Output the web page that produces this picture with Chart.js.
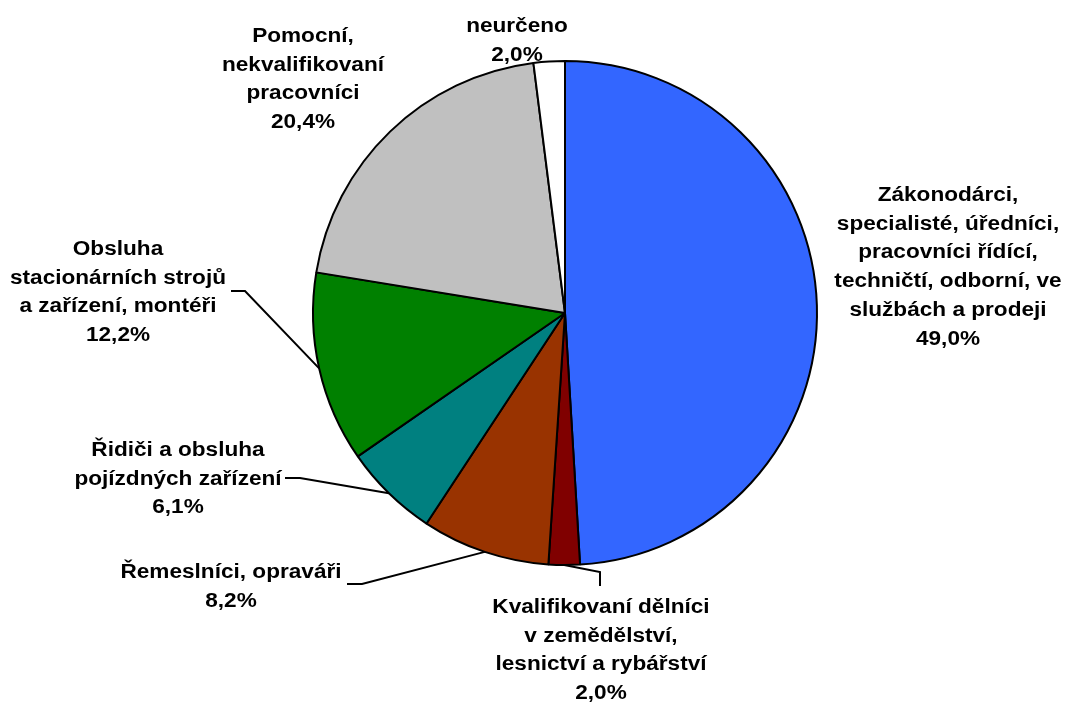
<!DOCTYPE html>
<html>
<head>
<meta charset="utf-8">
<script src="https://cdn.jsdelivr.net/npm/chart.js@4"></script>
<style>
  html, body { margin: 0; padding: 0; background: #fff; }
  #wrap { width: 1067px; height: 702px; }
</style>
</head>
<body>
<div id="wrap"><canvas id="graf"></canvas></div>
<script>
// data
const kategorie = [
    ["Zákonodárci,", "specialisté, úředníci,", "pracovníci řídící,", "techničtí, odborní, ve", "službách a prodeji"],
    ["Kvalifikovaní dělníci", "v zemědělství,", "lesnictví a rybářství"],
    ["Řemeslníci, opraváři"],
    ["Řidiči a obsluha", "pojízdných zařízení"],
    ["Obsluha", "stacionárních strojů", "a zařízení, montéři"],
    ["Pomocní,", "nekvalifikovaní", "pracovníci"],
    ["neurčeno"]
];
const podily = [49.0, 2.0, 8.2, 6.1, 12.2, 20.4, 2.0];
const barvy = ["#3366FF", "#800000", "#993300", "#008080", "#008000", "#C0C0C0", "#FFFFFF"];

// label placement (center x, first baseline, leader line points from label side)
const popisky = [
    { x: 948, y: 201, cara: null },
    { x: 601, y: 613, cara: [[600, 586], [600, 572]] },
    { x: 231, y: 578, cara: [[347, 584], [362, 584]] },
    { x: 178, y: 456, cara: [[285, 478], [300, 478]] },
    { x: 118, y: 255, cara: [[231, 291], [245, 291]] },
    { x: 303, y: 42, cara: null },
    { x: 517, y: 32, cara: null }
];
const RADEK = 28.7;
const ROZTAH = 1.13; // text is a bit wider than normal Arial

const popiskyPlugin = {
    id: "popisky",
    afterDraw(chart){
        const ctx = chart.ctx;
        const arcs = chart.getDatasetMeta(0).data;
        ctx.save();
        // leader lines
        ctx.strokeStyle = "#000";
        ctx.lineWidth = 2;
        arcs.forEach((a, i) => {
            const p = popisky[i];
            if(!p.cara) return;
            const mid = (a.startAngle + a.endAngle) / 2;
            const ex = a.x + Math.cos(mid) * a.outerRadius;
            const ey = a.y + Math.sin(mid) * a.outerRadius;
            ctx.beginPath();
            ctx.moveTo(p.cara[0][0], p.cara[0][1]);
            ctx.lineTo(p.cara[1][0], p.cara[1][1]);
            ctx.lineTo(ex, ey);
            ctx.stroke();
        });
        // texts
        ctx.fillStyle = "#000";
        ctx.font = "bold 20px 'Liberation Sans', Arial, sans-serif";
        ctx.textAlign = "center";
        ctx.textBaseline = "alphabetic";
        kategorie.forEach((radky, i) => {
            const p = popisky[i];
            const vse = radky.concat([podily[i].toFixed(1).replace(".", ",") + "%"]);
            vse.forEach((t, j) => {
                ctx.save();
                ctx.translate(p.x, p.y + j * RADEK);
                ctx.scale(ROZTAH, 1);
                ctx.fillText(t, 0, 0);
                ctx.restore();
            });
        });
        ctx.restore();
    }
};

new Chart(document.getElementById("graf"), {
    type: "pie",
    data: {
        labels: kategorie.map(k => k.join(" ")),
        datasets: [{
            data: podily,
            backgroundColor: barvy,
            borderColor: "#000",
            borderWidth: 2
        }]
    },
    options: {
        responsive: true,
        maintainAspectRatio: false,
        animation: false,
        layout: { padding: { top: 60, bottom: 136, left: 312, right: 249 } },
        plugins: {
            legend: { display: false },
            tooltip: { enabled: false }
        }
    },
    plugins: [popiskyPlugin]
});
</script>
</body>
</html>
